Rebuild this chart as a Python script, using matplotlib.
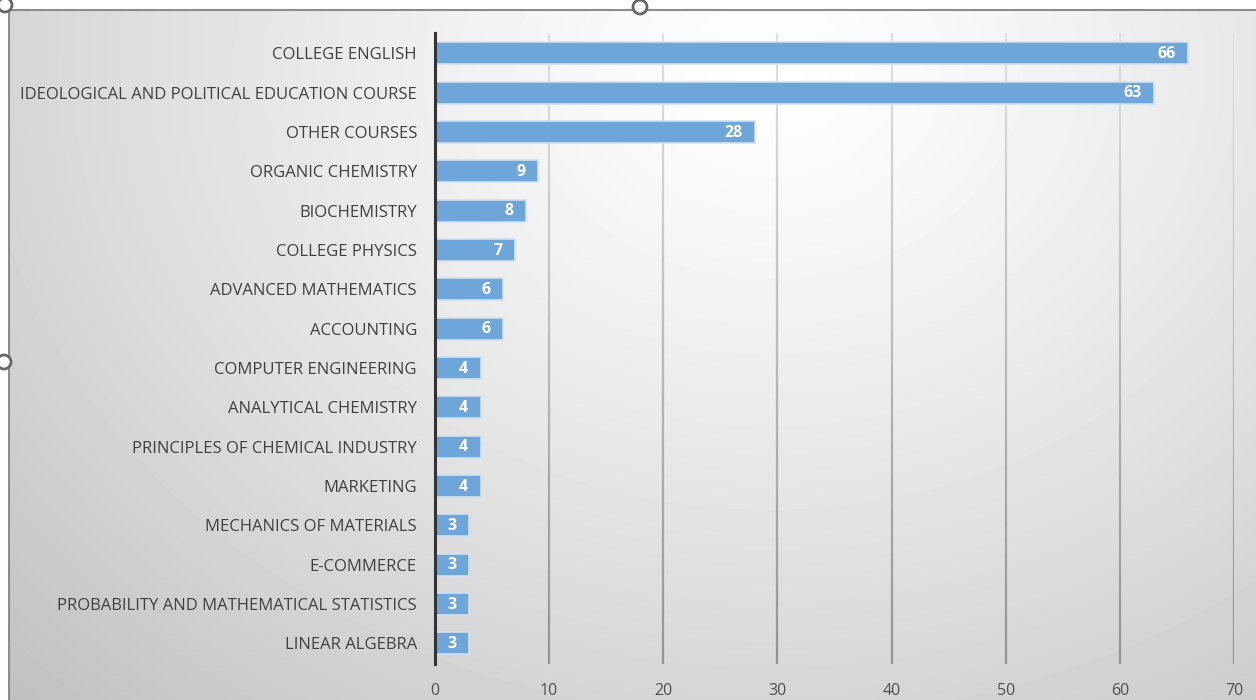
import numpy as np
import matplotlib.pyplot as plt
from matplotlib.patches import Ellipse
from matplotlib.collections import LineCollection

courses = ['COLLEGE ENGLISH', 'IDEOLOGICAL AND POLITICAL EDUCATION COURSE', 'OTHER COURSES',
           'ORGANIC CHEMISTRY', 'BIOCHEMISTRY', 'COLLEGE PHYSICS', 'ADVANCED MATHEMATICS',
           'ACCOUNTING', 'COMPUTER ENGINEERING', 'ANALYTICAL CHEMISTRY',
           'PRINCIPLES OF CHEMICAL INDUSTRY', 'MARKETING', 'MECHANICS OF MATERIALS',
           'E-COMMERCE', 'PROBABILITY AND MATHEMATICAL STATISTICS', 'LINEAR ALGEBRA']
counts = [66, 63, 28, 9, 8, 7, 6, 6, 4, 4, 4, 4, 3, 3, 3, 3]
xticks = [0, 10, 20, 30, 40, 50, 60, 70]

plt.rcParams['font.family'] = ['Open Sans', 'DejaVu Sans']

W, H = 1256, 700
fig = plt.figure(figsize=(W / 100, H / 100), dpi=100)
fig.patch.set_facecolor('white')

# radial gradient background inside the chart frame
bg = fig.add_axes([9 / W, 0, 1 - 9 / W, 1 - 10 / H])
bg.set_axis_off()
yy, xx = np.mgrid[0:690, 0:1247]
d = np.sqrt(((xx - 760) / 950.0) ** 2 + ((yy - 60) / 780.0) ** 2)
shade = 1.0 - 0.21 * np.clip(d, 0, 1.3) ** 1.2
bg.imshow(shade, cmap='gray', vmin=0, vmax=1, aspect='auto', extent=[0, 1, 0, 1], origin='upper')
bg.set_xlim(0, 1)
bg.set_ylim(0, 1)
bg.plot([0, 1], [1, 1], color='#8c8c8c', lw=1.5, transform=bg.transAxes, clip_on=False)
bg.plot([0, 0], [0, 1], color='#8c8c8c', lw=1.5, transform=bg.transAxes, clip_on=False)

ax = fig.add_axes([435 / W, 36 / H, 799 / W, 631 / H])
ax.patch.set_alpha(0)
y = np.arange(len(courses))
ax.barh(y, counts, height=0.56, color='#6fa6da', edgecolor='#cfe1f2', linewidth=1.2, zorder=3)
for yi, v in zip(y, counts):
    ax.annotate(str(v), (v, yi), xytext=(-9, -0.5), textcoords='offset points',
                ha='right', va='center', color='white', fontsize=11.5, fontweight='bold', zorder=4)

ylo, yhi = len(courses) - 0.5 + 0.03, -0.5 - 0.02
ax.set_ylim(ylo, yhi)
ax.set_xlim(0, 70)
ax.set_xticks(xticks)
ax.set_yticks(y)
ax.set_yticklabels(courses)
ax.tick_params(axis='y', length=0, pad=13, labelsize=12, labelcolor='#404040')
ax.tick_params(axis='x', length=0, pad=14, labelsize=11.5, labelcolor='#505050')

# vertical gridlines fading towards the top
n = 40
ys = np.linspace(yhi, ylo, n + 1)
segs, cols = [], []
for xt in xticks[1:]:
    for i in range(n):
        segs.append([(xt, ys[i]), (xt, ys[i + 1])])
        t = i / (n - 1)
        g = 0.88 - 0.3 * t
        cols.append((g, g, g))
ax.add_collection(LineCollection(segs, colors=cols, linewidths=1.6, zorder=1))

for s in ['top', 'right', 'bottom']:
    ax.spines[s].set_visible(False)
ax.spines['left'].set_color('#333333')
ax.spines['left'].set_linewidth(2.2)
ax.spines['left'].set_zorder(5)

# selection handles on the frame
for cx, cy in [(5, 695), (640, 693), (4, 338)]:
    fig.patches.append(Ellipse((cx / W, cy / H), 14 / W, 14 / H, transform=fig.transFigure,
                               facecolor='white', edgecolor='#666666', lw=2))

fig.savefig('out.png', dpi=100)
